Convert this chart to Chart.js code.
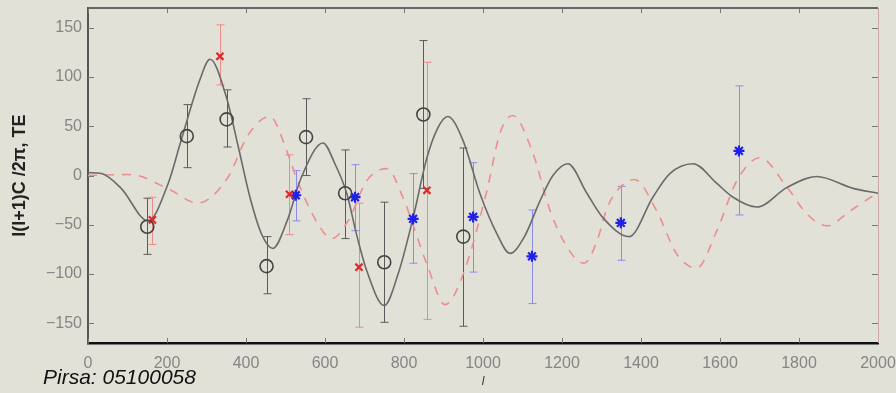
<!DOCTYPE html>
<html>
<head>
<meta charset="utf-8">
<script src="https://cdn.jsdelivr.net/npm/chart.js@4.4.1/dist/chart.umd.min.js"></script>
<style>
  html, body { margin: 0; padding: 0; background: #e2e1d8; }
  #wrap { position: relative; width: 896px; height: 393px; }
  #pirsa { position: absolute; left: 43px; top: 365px; font: italic 21px "Liberation Sans", Arial, sans-serif; color: #111; }
</style>
</head>
<body>
<div id="wrap">
  <canvas id="chart" width="896" height="393"></canvas>
  <div id="pirsa">Pirsa: 05100058</div>
</div>
<script>
// axis ticks
const xTicks = [0, 200, 400, 600, 800, 1000, 1200, 1400, 1600, 1800, 2000];
const yTicks = [-150, -100, -50, 0, 50, 100, 150];

// solid model curve
const modelL  = [0, 34, 84, 152, 203, 236, 283, 309, 350, 380, 410, 440, 468, 505, 540, 595, 625, 655, 680, 706, 750, 785, 823, 858, 885, 911, 950, 992, 1035, 1068, 1105, 1144, 1177, 1215, 1263, 1304, 1370, 1430, 1473, 1532, 1592, 1633, 1693, 1770, 1845, 1937, 2000];
const modelTE = [3, 2, -13, -46, -8, 36, 97, 118, 80, 30, -22, -60, -74, -45, -2, 33, 12, -18, -60, -97, -132, -100, -43, 18, 48, 60, 35, -18, -59, -79, -62, -26, 0, 12, -18, -43, -62, -22, 2, 12, -8, -22, -32, -12, -1, -13, -18];

// dashed curve
const altL  = [0, 100, 127, 210, 278, 354, 405, 460, 506, 530, 582, 617, 660, 706, 757, 797, 858, 904, 950, 1010, 1043, 1075, 1127, 1170, 1220, 1256, 1289, 1314, 1347, 1383, 1440, 1491, 1541, 1592, 1643, 1701, 1770, 1820, 1871, 1929, 2000];
const altTE = [0, 1, 0, -15, -28, -2, 41, 60, 22, -5, -49, -64, -45, -5, 7, -22, -90, -131, -100, -15, 43, 61, 22, -36, -77, -89, -66, -33, -12, -4, -36, -80, -94, -56, -5, 18, -12, -39, -51, -36, -17];

// black circles
const blackL  = [150, 250, 351, 452, 552, 651, 750, 849, 950];
const blackY  = [-52, 40, 57, -92, 39, -18, -88, 62, -62];
const blackHi = [-23, 72, 87, -62, 78, 26, -27, 137, 28];
const blackLo = [-80, 8, 29, -120, 0, -64, -149, -13, -153];

// red crosses
const redL  = [163, 334, 510, 686, 858];
const redY  = [-45, 121, -19, -93, -15];
const redHi = [-22, 153, 21, -28, 115];
const redLo = [-70, 92, -60, -154, -146];

// blue stars
const blueL  = [526, 676, 823, 975, 1124, 1349, 1648];
const blueY  = [-20, -22, -44, -42, -82, -48, 25];
const blueHi = [5, 11, 2, 13, -35, -11, 91];
const blueLo = [-46, -56, -89, -98, -130, -86, -40];

const pts = (xs, ys) => xs.map((x, i) => ({ x: x, y: ys[i] }));

const errorSets = [
  { l: blackL, hi: blackHi, lo: blackLo, color: '#5a5a5a' },
  { l: redL, hi: redHi, lo: redLo, color: '#ec8a8a' },
  { l: blueL, hi: blueHi, lo: blueLo, color: '#8a8af0' }
];

// error bars under the markers
const errorBars = {
  id: 'errorBars',
  beforeDatasetsDraw(chart) {
    const { ctx, scales: { x, y } } = chart;
    ctx.save();
    ctx.lineWidth = 1;
    errorSets.forEach(s => {
      ctx.strokeStyle = s.color;
      s.l.forEach((l, i) => {
        const px = Math.round(x.getPixelForValue(l)) + 0.5;
        const top = y.getPixelForValue(s.hi[i]);
        const bot = y.getPixelForValue(s.lo[i]);
        ctx.beginPath();
        ctx.moveTo(px, top); ctx.lineTo(px, bot);
        ctx.moveTo(px - 4, top); ctx.lineTo(px + 4, top);
        ctx.moveTo(px - 4, bot); ctx.lineTo(px + 4, bot);
        ctx.stroke();
      });
    });
    ctx.restore();
  }
};

// box and inward ticks
const frame = {
  id: 'frame',
  afterDraw(chart) {
    const { ctx, chartArea: a, scales: { x, y } } = chart;
    ctx.save();
    ctx.strokeStyle = '#777';
    ctx.lineWidth = 1;
    xTicks.forEach(v => {
      const px = Math.round(x.getPixelForValue(v)) + 0.5;
      ctx.beginPath();
      ctx.moveTo(px, a.bottom); ctx.lineTo(px, a.bottom - 5);
      ctx.moveTo(px, a.top); ctx.lineTo(px, a.top + 5);
      ctx.stroke();
    });
    yTicks.forEach(v => {
      const py = Math.round(y.getPixelForValue(v)) + 0.5;
      ctx.beginPath();
      ctx.moveTo(a.left, py); ctx.lineTo(a.left + 6, py);
      ctx.moveTo(a.right, py); ctx.lineTo(a.right - 6, py);
      ctx.stroke();
    });
    ctx.strokeStyle = '#666';
    ctx.lineWidth = 2;
    ctx.beginPath(); ctx.moveTo(a.left, a.top); ctx.lineTo(a.right, a.top); ctx.stroke();
    ctx.strokeStyle = '#c9a9a9';
    ctx.lineWidth = 1;
    ctx.beginPath(); ctx.moveTo(a.right + 0.5, a.top); ctx.lineTo(a.right + 0.5, a.bottom); ctx.stroke();
    ctx.restore();
  }
};

const tickFont = { family: '"Liberation Sans", Arial, sans-serif', size: 16 };

new Chart(document.getElementById('chart'), {
  type: 'scatter',
  data: {
    datasets: [
      { data: pts(blackL, blackY), pointStyle: 'circle', pointRadius: 6.5, borderColor: '#444', borderWidth: 1.6, backgroundColor: 'rgba(0,0,0,0)' },
      { data: pts(redL, redY), pointStyle: 'crossRot', pointRadius: 5, borderColor: '#e02a2a', borderWidth: 2.2 },
      { data: pts(blueL, blueY), pointStyle: 'star', pointRadius: 5.5, borderColor: '#2020e8', borderWidth: 2.2 },
      { data: pts(modelL, modelTE), showLine: true, pointRadius: 0, borderColor: '#6a6a6a', borderWidth: 1.6, cubicInterpolationMode: 'monotone' },
      { data: pts(altL, altTE), showLine: true, pointRadius: 0, borderColor: '#ec8e8e', borderWidth: 1.6, borderDash: [9, 8], cubicInterpolationMode: 'monotone' }
    ]
  },
  options: {
    responsive: false,
    animation: false,
    layout: { padding: 0 },
    plugins: { legend: { display: false }, tooltip: { enabled: false } },
    scales: {
      x: {
        type: 'linear', min: 0, max: 2000,
        afterBuildTicks: s => { s.ticks = xTicks.map(v => ({ value: v })); },
        afterFit: s => { s.height = 50; s.paddingLeft = 0; s.paddingRight = 18; },
        grid: { display: false, drawTicks: false },
        border: { display: true, color: '#111', width: 2.5 },
        ticks: { color: '#858585', font: tickFont, padding: 11, maxRotation: 0, callback: v => String(v) },
        title: { display: true, text: 'l', color: '#333', font: { family: '"Liberation Sans", Arial, sans-serif', size: 12, style: 'italic' }, padding: { top: 0, bottom: 4 } }
      },
      y: {
        min: -170, max: 170,
        afterBuildTicks: s => { s.ticks = yTicks.map(v => ({ value: v })); },
        afterFit: s => { s.width = 88; s.paddingTop = 8; s.paddingBottom = 0; },
        grid: { display: false, drawTicks: false },
        border: { display: true, color: '#555', width: 2 },
        ticks: { color: '#858585', font: tickFont, padding: 6, callback: v => v < 0 ? '\u2212' + Math.abs(v) : String(v) },
        title: { display: true, text: 'l(l+1)C /2\u03c0, TE', color: '#222', font: { family: '"Liberation Sans", Arial, sans-serif', size: 18, weight: 'bold' }, padding: { top: 9, bottom: 0 } }
      }
    }
  },
  plugins: [errorBars, frame]
});
</script>
</body>
</html>
